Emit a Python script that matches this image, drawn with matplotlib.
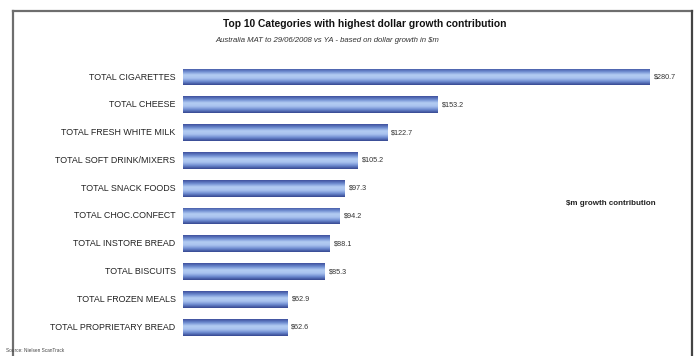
import numpy as np
import matplotlib
matplotlib.use("Agg")
import matplotlib.pyplot as plt
from matplotlib.colors import LinearSegmentedColormap
from matplotlib.lines import Line2D

categories = [
    "TOTAL CIGARETTES",
    "TOTAL CHEESE",
    "TOTAL FRESH WHITE MILK",
    "TOTAL SOFT DRINK/MIXERS",
    "TOTAL SNACK FOODS",
    "TOTAL CHOC.CONFECT",
    "TOTAL INSTORE BREAD",
    "TOTAL BISCUITS",
    "TOTAL FROZEN MEALS",
    "TOTAL PROPRIETARY BREAD",
]
growth = [280.7, 153.2, 122.7, 105.2, 97.3, 94.2, 88.1, 85.3, 62.9, 62.6]
value_labels = ["$280.7", "$153.2", "$122.7", "$105.2", "$97.3",
                "$94.2", "$88.1", "$85.3", "$62.9", "$62.6"]

title = "Top 10 Categories with highest dollar growth contribution"
subtitle = "Australia MAT to 29/06/2008 vs YA - based on dollar growth in $m"
legend_text = "$m growth contribution"
source = "Source: Nielsen ScanTrack"

plt.rcParams["font.family"] = ["Liberation Sans", "DejaVu Sans"]

W, H = 698, 356
fig = plt.figure(figsize=(W / 100, H / 100), dpi=100)
fig.patch.set_facecolor("white")

ax = fig.add_axes([183 / W, 1 - 341.1 / H, 509 / W, (341.1 - 63.1) / H])
ax.set_xlim(0, 306)
ax.set_ylim(9.5, -0.5)
ax.axis("off")

# cylinder-like shading across each bar's thickness
shade = LinearSegmentedColormap.from_list(
    "shade", ["#3d4f9c", "#6d8bd0", "#b4cdf3", "#a9c3ef", "#6d8bd0", "#34458f"])
grad = np.linspace(0, 1, 64).reshape(-1, 1)

bar_h = 0.6
y = np.arange(len(categories))
bars = ax.barh(y, growth, height=bar_h, color="none", edgecolor="none")
for bar, v, lab, yi in zip(bars, growth, value_labels, y):
    im = ax.imshow(grad, cmap=shade, aspect="auto",
                   extent=(0, v, yi + bar_h / 2, yi - bar_h / 2),
                   interpolation="bicubic", zorder=2)
    im.set_clip_path(bar)
    ax.text(v + 2.5, yi, lab, ha="left", va="center", fontsize=5.2,
            color="#333333")

for yi, cat in zip(y, categories):
    ax.text(-4.5, yi, cat, ha="right", va="center", fontsize=6.4,
            color="#222222")

fig.text(365 / W, 1 - 24 / H, title, ha="center", va="center",
         fontsize=7.4, fontweight="bold", color="#111111")
fig.text(215 / W, 1 - 40 / H, subtitle, ha="left", va="center",
         fontsize=5.6, style="italic", color="#333333")
fig.text(611 / W, 1 - 204 / H, legend_text, ha="center", va="center",
         fontsize=5.8, fontweight="bold", color="#222222")
fig.text(6 / W, 1 - 351 / H, source, ha="left", va="center",
         fontsize=3.4, color="#444444")

# frame lines around the chart panel
frame_col = "#6e6e6e"
fig.add_artist(Line2D([13 / W, 692 / W], [1 - 10.5 / H, 1 - 10.5 / H],
                      transform=fig.transFigure, color=frame_col, lw=1.6))
fig.add_artist(Line2D([13 / W, 13 / W], [1 - 10.5 / H, 0],
                      transform=fig.transFigure, color=frame_col, lw=1.6))
fig.add_artist(Line2D([692 / W, 692 / W], [1 - 10.5 / H, 0],
                      transform=fig.transFigure, color="#444444", lw=1.6))

fig.savefig("out.png", dpi=100, facecolor="white")
